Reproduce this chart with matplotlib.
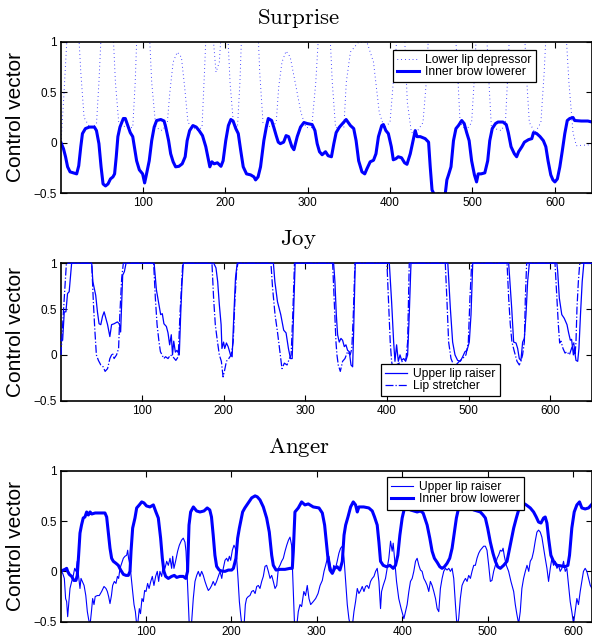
import matplotlib
matplotlib.use("Agg")
import matplotlib.pyplot as plt

plt.rcParams['font.family'] = ['Liberation Sans', 'DejaVu Sans']
plt.rcParams['mathtext.fontset'] = 'cm'

# ---- Surprise ----
surp_lip = [(1, 0.0), (4, 0.4), (8, 1.0), (11, 1.3), (21, 1.3), (25, 0.7), (29, 0.25), (36, 0.15),
            (44, 0.18), (47, 0.6), (51, 1.3), (63, 1.3), (67, 0.6), (71, 0.2), (80, 0.15), (88, 0.15),
            (91, 0.6), (94, 1.3), (107, 1.3), (111, 0.6), (116, 0.15), (124, 0.12), (130, 0.2), (133, 0.5),
            (137, 0.8), (142, 0.9), (147, 0.85), (151, 0.55), (155, 0.2), (165, 0.12), (172, 0.15),
            (175, 0.7), (178, 1.3), (185, 1.1), (189, 0.7), (193, 0.8), (197, 1.3), (202, 1.3), (206, 0.6),
            (210, 0.2), (215, 0.15), (218, 0.6), (221, 1.3), (239, 1.3), (242, 0.7), (246, 0.2), (256, 0.15),
            (262, 0.2), (265, 0.55), (269, 0.8), (274, 0.91), (279, 0.85), (285, 0.6), (292, 0.3),
            (298, 0.15), (305, 0.15), (310, 0.6), (315, 1.3), (326, 1.3), (330, 0.6), (334, 0.15),
            (344, 0.15), (347, 0.6), (352, 0.9), (362, 1.0), (372, 1.0), (380, 0.8), (387, 0.3),
            (393, 0.15), (400, 0.2), (405, 0.7), (410, 1.2), (418, 1.0), (421, 0.4), (426, 0.1),
            (432, 0.1), (440, 0.2), (444, 0.6), (448, 1.3), (478, 1.3), (482, 0.7), (485, 0.2),
            (492, 0.12), (499, 0.2), (502, 0.6), (506, 1.3), (516, 1.3), (520, 0.6), (523, 0.15),
            (535, 0.12), (540, 0.2), (543, 0.7), (546, 1.3), (562, 1.3), (566, 0.6), (569, 0.2),
            (576, 0.1), (583, 0.2), (587, 0.7), (590, 1.2), (600, 1.3), (612, 1.3), (617, 0.6),
            (622, 0.1), (626, -0.03), (645, -0.02)]

surp_brow = [(1, 0.0), (4, -0.06), (6.5, -0.14), (9, -0.24), (12, -0.29), (16, -0.30), (20, -0.31),
             (22.5, -0.23), (25, -0.04), (27, 0.09), (30.6, 0.14), (35.5, 0.155), (41.5, 0.155), (44, 0.12),
             (47, -0.01), (49.6, -0.24), (52, -0.41), (55, -0.43), (58, -0.41), (61, -0.36), (64, -0.34),
             (66, -0.31), (68, -0.14), (70, 0.06), (72.5, 0.155), (76.6, 0.24), (79, 0.24), (82, 0.17),
             (85, 0.10), (88, 0.06), (90, -0.04), (92.7, -0.18), (96, -0.27), (100, -0.31), (102.4, -0.40),
             (104, -0.34), (108, -0.18), (111, 0.02), (114, 0.155), (117, 0.22), (122, 0.23), (126, 0.215),
             (128, 0.155), (131.5, 0.02), (134, -0.11), (137, -0.19), (140, -0.24), (144, -0.235),
             (148, -0.21), (151.6, -0.14), (154, 0.02), (157, 0.12), (161, 0.17), (165, 0.155),
             (168.5, 0.12), (172.6, 0.07), (176.6, -0.04), (180, -0.18), (181.5, -0.24), (184, -0.19),
             (186.7, -0.21), (190.7, -0.20), (195, -0.235), (197.6, -0.18), (200.8, 0.02), (204, 0.17),
             (207, 0.23), (209.7, 0.215), (213, 0.14), (216, 0.09), (219, -0.08), (222, -0.24),
             (226, -0.31), (231, -0.32), (235, -0.34), (237, -0.37), (240, -0.34), (243, -0.24),
             (247, 0.02), (250, 0.155), (252.4, 0.24), (256.5, 0.22), (259, 0.155), (262, 0.07),
             (264.5, 0.005), (267, -0.01), (271, 0.005), (274, 0.07), (277, 0.06), (281, -0.04),
             (283.5, -0.07), (287.5, 0.06), (291.5, 0.155), (295.6, 0.20), (299.6, 0.19), (305.6, 0.18),
             (309, 0.12), (311.7, -0.01), (314.5, -0.09), (317.7, -0.12), (321.8, -0.09), (325, -0.13),
             (329, -0.14), (331.9, -0.01), (334.7, 0.10), (338.7, 0.155), (344, 0.205), (346.8, 0.23),
             (352, 0.17), (356, 0.14), (358.9, 0.02), (362, -0.18), (366, -0.29), (369.4, -0.31),
             (372, -0.26), (376, -0.19), (380, -0.175), (383, -0.11), (386, 0.06), (390, 0.17),
             (392, 0.18), (395, 0.12), (398, 0.09), (401.6, -0.04), (404, -0.17), (407, -0.16),
             (410, -0.14), (414, -0.15), (417.7, -0.20), (420.6, -0.215), (424.6, -0.11), (428.6, 0.04),
             (430.6, 0.12), (432.7, 0.06), (436.7, 0.06), (442.7, 0.04), (446.8, 0.005), (448.8, -0.24),
             (451, -0.47), (454, -0.52), (458.9, -0.51), (463, -0.52), (467, -0.51), (469, -0.37),
             (471, -0.32), (474, -0.24), (477, 0.02), (480, 0.14), (483, 0.17), (487, 0.22), (490, 0.19),
             (493, 0.10), (496, 0.02), (499, -0.18), (502.4, -0.32), (505, -0.39), (507, -0.31),
             (510.5, -0.31), (515, -0.30), (518.5, -0.18), (521, 0.02), (524, 0.14), (528, 0.19),
             (531, 0.205), (537, 0.205), (541, 0.18), (543.5, 0.10), (546.8, -0.04), (550.8, -0.11),
             (553.6, -0.14), (556, -0.09), (560, -0.04), (563, 0.005), (568, 0.03), (572, 0.04),
             (574, 0.10), (578, 0.09), (582, 0.06), (586, 0.02), (589, -0.04), (591.7, -0.18),
             (595, -0.32), (597.6, -0.37), (600, -0.39), (603, -0.36), (606, -0.24), (609, -0.08),
             (612, 0.09), (615, 0.22), (618, 0.24), (622, 0.25), (624, 0.22), (632, 0.215), (640, 0.215),
             (645, 0.205)]

# ---- Joy ----
joy_raiser = [(1, 0.16), (3, 0.16), (5, 0.47), (7, 0.47), (9, 0.67), (11, 0.69), (14, 1), (38.6, 1),
              (40, 0.8), (43.5, 0.65), (45.6, 0.47), (47.6, 0.34), (49.7, 0.33), (51.8, 0.42), (53.8, 0.47),
              (55.9, 0.4), (58, 0.33), (60.8, 0.2), (62.9, 0.33), (66, 0.34), (70, 0.36), (72.4, 0.34),
              (74, 0.25), (75.3, 0.58), (76.5, 0.87), (78.6, 0.91), (80.6, 1), (115, 1), (117.8, 0.71),
              (121, 0.54), (123, 0.44), (125, 0.45), (127, 0.34), (130, 0.31), (132, 0.24), (134, 0.11),
              (136, 0.22), (137.5, 0), (139, 0.15), (141, 0.03), (143, 0.05), (145.8, 0), (147.5, 0.44),
              (149, 0.76), (150.7, 1), (188, 1), (190.7, 0.95), (192.8, 0.8), (194.8, 0.55), (197, 0.33),
              (198, 0.07), (200, 0.14), (201.4, 0.07), (203.5, 0.13), (205.6, 0.09), (208.5, 0),
              (210.5, -0.02), (212.6, 0.44), (214.6, 0.84), (216.7, 1), (261, 1), (262.8, 0.8), (266, 0.58),
              (270, 0.44), (273.6, 0.27), (276.5, 0.24), (279.4, 0.07), (281.9, -0.04), (284, -0.04),
              (285.6, 0.44), (287.6, 1), (334.7, 1), (336.3, 0.8), (338, 0.44), (339.6, 0.22), (341.6, 0.14),
              (343.7, 0.18), (345.7, 0.16), (347.8, 0.09), (349.8, 0.11), (351.8, 0.05), (353.9, 0.035),
              (356, -0.11), (358, -0.13), (359.2, 0.25), (361.2, 1), (402.9, 1), (405.7, 0.58),
              (408.2, 0.14), (409.8, -0.07), (411.8, 0.11), (413.9, -0.07), (416, 0), (418, -0.06),
              (420.4, -0.04), (422.9, -0.07), (425.3, 0), (427.3, 0.44), (429.4, 1), (474.5, 1),
              (477.6, 0.51), (480.4, 0.14), (483.3, 0), (486.5, -0.06), (489.8, -0.07), (492.7, -0.02),
              (495.5, 0.035), (498, 0.05), (500.8, 0.14), (502.9, 0.44), (505, 1), (549, 1), (552.7, 0.51),
              (555.1, 0.14), (558, 0.13), (560, 0.07), (562, -0.04), (564, -0.06), (566.1, 0.14),
              (568.2, 0.18), (570.2, 0.44), (572.2, 0.8), (574.3, 1), (608, 1), (609, 0.91), (611, 0.62),
              (614, 0.44), (617, 0.4), (620.4, 0.33), (622.4, 0.24), (624.5, 0.16), (626, 0.17),
              (628.2, 0), (629.4, 0.07), (631.4, -0.06), (633.5, -0.07), (635, 0.07), (636.9, 0.44),
              (639, 0.8), (641, 1), (651, 1)]

joy_stretcher = [(1, 0), (3, 0.33), (5, 0.62), (7.6, 1), (38.6, 1), (40.6, 0.58), (42.3, 0.29), (44.3, 0),
                 (46.8, -0.06), (49.7, -0.11), (52.6, -0.13), (55, -0.18), (58, -0.15), (60.8, -0.04),
                 (64, 0.02), (66, -0.04), (69, 0), (71.5, 0.07), (73, 0.44), (75.3, 0.84), (77.3, 1),
                 (114.4, 1), (116.5, 0.62), (118.6, 0.33), (121, 0.14), (122.7, 0.035), (124.7, 0),
                 (126.8, -0.04), (129, -0.02), (132, -0.04), (135, 0), (138, -0.02), (141.6, -0.06),
                 (144.5, -0.02), (146.6, 0.44), (148.7, 0.8), (150, 1), (185.8, 1), (187.8, 0.62),
                 (189.9, 0.33), (192, 0.18), (194.8, 0), (197.3, -0.07), (199.4, -0.24), (201, -0.18),
                 (203.5, -0.07), (206.4, -0.04), (209.3, 0), (211.8, 0.14), (213.8, 0.58), (215.9, 0.91),
                 (217.5, 1), (258, 1), (260, 0.73), (263, 0.44), (266, 0.25), (269.5, 0), (271.5, -0.15),
                 (274.4, -0.09), (277.7, -0.11), (280.6, -0.04), (282.7, 0), (284.7, 0.44), (286.8, 1),
                 (333.5, 1), (335.5, 0.58), (337.6, 0.14), (338.8, 0), (340.4, -0.11), (342.9, -0.18),
                 (345.7, -0.07), (348.6, -0.04), (351.8, 0.035), (355, 0), (357, 0.07), (358.8, 0.44),
                 (360.8, 1), (400, 1), (402, 0.58), (404, 0.14), (405.7, -0.07), (407.8, -0.18),
                 (411, -0.11), (415, -0.09), (419, -0.07), (423.3, -0.04), (425.3, 0.14), (427.3, 1),
                 (471.4, 1), (473.5, 0.58), (475.5, 0.14), (478.4, -0.04), (481.6, -0.11), (484.5, -0.11),
                 (488.6, -0.07), (492.7, -0.04), (496.7, 0), (499.6, 0.14), (501.6, 0.62), (503.7, 1),
                 (547, 1), (549, 0.62), (551, 0.33), (553, 0.14), (556, 0.035), (559.2, -0.07),
                 (562, -0.11), (564, -0.07), (566, 0), (568.2, 0.14), (569.4, 0.62), (571, 1), (605.7, 1),
                 (608, 0.62), (609.8, 0.33), (611.4, 0.13), (613, 0.15), (615.5, 0.07), (618, 0.02),
                 (620.4, 0.035), (623.3, 0), (626, 0.07), (628.6, 0.14), (630.2, 0), (631.4, 0.14),
                 (632.6, 0.51), (634.3, 0.8), (636, 1), (651, 1)]

# ---- Anger ----
anger_raiser = [(1, 0), (3, -0.02), (4.9, -0.07), (6.4, -0.27), (7.6, -0.3), (8.8, -0.45), (10, -0.33),
                (11.5, -0.17), (13.5, -0.1), (15.4, -0.04), (17, 0.03), (18.5, 0), (20, 0.1), (21.6, -0.05),
                (23.2, -0.17), (24.4, -0.07), (26, -0.1), (28, -0.14), (30, -0.24), (31.8, -0.4),
                (33.4, -0.48), (35, -0.53), (36.6, -0.4), (38, -0.27), (39.6, -0.33), (41, -0.25),
                (43.5, -0.24), (45.8, -0.24), (48.5, -0.2), (51.3, -0.15), (53.6, -0.17), (55.2, -0.2),
                (56.7, -0.25), (58.3, -0.32), (60, -0.24), (61.4, -0.14), (63.4, -0.1), (65.3, -0.12),
                (67, -0.05), (68.4, -0.07), (70, 0.03), (72, 0.08), (73.9, 0.13), (75.8, 0.15),
                (77.8, 0.16), (79, 0.21), (80, 0.13), (81.7, 0.06), (83.2, -0.07), (84.8, -0.2),
                (86.4, -0.33), (88, -0.4), (89.5, -0.53), (91, -0.5), (92.6, -0.37), (94, -0.42),
                (95.7, -0.27), (97.3, -0.3), (98.8, -0.19), (100.4, -0.2), (102.3, -0.12), (104, -0.17),
                (106, -0.1), (107.8, -0.05), (109.7, -0.14), (111.7, -0.05), (113.6, 0), (115.2, -0.1),
                (116.7, 0), (118.7, -0.05), (120.7, 0.06), (122.6, 0.03), (124.6, 0.1), (126.5, 0.06),
                (128.5, 0.13), (130.4, 0.03), (131.6, 0.15), (133.1, 0.03), (135, 0.1), (137.4, 0.2),
                (139.4, 0.26), (142, 0.31), (144, 0.33), (146, 0.29), (147.2, 0.2), (148.7, -0.07),
                (150, -0.33), (151, -0.53), (152.5, -0.6), (153.8, -0.5), (155.7, -0.27), (157.7, -0.1),
                (159.7, -0.04), (161.6, 0), (163.5, -0.05), (165.5, 0), (167.4, -0.04), (169.4, -0.1),
                (171.4, -0.15), (173.3, -0.19), (175.3, -0.17), (177.2, -0.14), (179, -0.1), (181, -0.14),
                (183, -0.1), (185, -0.05), (187, 0), (189, -0.07), (190.8, 0.03), (192.8, 0.11),
                (194.7, 0.13), (196.3, 0.1), (197.9, 0.15), (199.4, 0.11), (201.4, 0.21), (203.3, 0.26),
                (204.9, 0.23), (206.4, 0.13), (208, -0.07), (209.6, -0.3), (211.1, -0.43), (212.7, -0.55),
                (215, -0.55), (216.6, -0.33), (218, -0.27), (220, -0.25), (222, -0.24), (224, -0.2),
                (226, -0.19), (228, -0.22), (229.9, -0.15), (231.8, -0.14), (233.7, -0.17), (235.7, -0.1),
                (237.6, -0.05), (239.6, 0.05), (241.5, 0.06), (243.5, 0), (245.5, -0.07), (247.4, -0.04),
                (249.3, -0.1), (251.3, -0.17), (253.3, -0.14), (255.2, 0.03), (257.1, 0.06), (259, 0.1),
                (261, 0.13), (263, 0.2), (265, 0.26), (267, 0.31), (268.8, 0.34), (270.7, 0.26),
                (272.7, -0.2), (274.2, -0.55), (276.6, -0.55), (278.5, -0.4), (280.5, -0.33),
                (282.4, -0.35), (285, -0.2), (287, -0.24), (289, -0.14), (291, -0.27), (293, -0.33),
                (296, -0.3), (298.8, -0.27), (301.6, -0.22), (304, -0.14), (306.6, -0.09), (308.6, 0),
                (310.5, 0.06), (312.5, 0.13), (314.4, 0.15), (316.3, 0.05), (318.3, -0.02), (320, 0.06),
                (322, 0.03), (324, 0.1), (326, 0.18), (328, 0.23), (330, 0.25), (332, 0.13), (333.9, -0.1),
                (335.8, -0.33), (337.7, -0.47), (339.7, -0.55), (341.6, -0.55), (343.6, -0.4),
                (345.5, -0.3), (347.5, -0.17), (349.4, -0.22), (351.4, -0.19), (353.3, -0.15),
                (355.3, -0.2), (357.2, -0.15), (359, -0.14), (361, -0.17), (363, -0.1), (365, -0.07),
                (367, -0.05), (368.9, 0), (370.8, 0.03), (372.8, -0.1), (374.7, -0.37), (375.9, -0.2),
                (377.8, -0.14), (380.5, -0.07), (382.5, 0.03), (384.4, 0.13), (386.4, 0.3), (388.3, 0.2),
                (389.5, 0.28), (391.4, 0.1), (393.4, -0.1), (396, -0.27), (398.8, -0.37), (402, -0.47),
                (403.9, -0.4), (405.8, -0.33), (407.8, -0.2), (409.7, -0.1), (411.7, -0.07), (413.6, 0),
                (415.6, 0.1), (417.5, 0.13), (419.5, 0.06), (421.4, 0.013), (423.3, 0), (425.3, -0.07),
                (427.2, -0.1), (429.2, -0.14), (431.1, -0.2), (433, -0.1), (435, -0.14), (437, -0.2),
                (439, -0.27), (440.9, -0.37), (442.8, -0.4), (444.7, -0.17), (446.7, -0.07), (448.6, 0),
                (450.6, 0.03), (452.5, 0.013), (454.5, 0.03), (456.4, 0), (458.4, 0.03), (460.3, -0.07),
                (462.3, -0.33), (464.2, -0.55), (466.1, -0.47), (468, -0.27), (470, -0.14), (472, -0.1),
                (474, -0.07), (475.9, -0.1), (477.8, -0.04), (479.8, -0.07), (481.7, 0), (483.7, 0.06),
                (485.6, 0.06), (487.5, 0.13), (489.5, 0.18), (491.4, 0.21), (493.4, 0.23), (495.3, 0.25),
                (497.3, 0.25), (499.2, 0.21), (501.2, 0.06), (503.1, -0.1), (505, -0.09), (507, 0),
                (509, 0.06), (511, 0.13), (512.8, 0.16), (514.8, 0.21), (516.7, 0.2), (518, 0.23),
                (519.5, 0.15), (521.8, 0.06), (524.5, 0), (527.2, -0.1), (530.4, -0.2), (532.3, -0.33),
                (534.2, -0.43), (536.2, -0.52), (538.1, -0.4), (540, -0.17), (542, -0.07), (544, 0),
                (546, 0.06), (548, 0), (549.8, 0.1), (551.8, 0.13), (553.7, 0.2), (555.6, 0.3),
                (557.6, 0.39), (559.5, 0.41), (561.5, 0.39), (563.4, 0.34), (565.4, 0.23), (567.3, 0.13),
                (569.3, 0.03), (571.2, -0.1), (573.2, 0.03), (575.1, 0.13), (577, 0.06), (579, 0.1),
                (581, 0.03), (582.9, 0.06), (584.8, 0), (586.8, 0.03), (588.7, 0.1), (590.7, 0),
                (592.6, 0.03), (594.6, -0.14), (596.5, -0.3), (598.4, -0.4), (600.4, -0.52), (602.3, -0.4),
                (604.3, -0.27), (606.2, -0.33), (608.2, -0.2), (610.1, -0.1), (612, 0), (614, 0.03),
                (616, 0), (618, -0.07), (620, -0.14), (622, -0.17)]

anger_brow = [(1, 0), (3.7, 0.013), (5.7, 0.02), (7.6, 0.03), (8.8, 0), (10.7, -0.03), (13.5, -0.05),
              (16, -0.09), (18.5, -0.09), (20, -0.04), (21.6, 0.16), (23.2, 0.38), (25, 0.46), (27, 0.53),
              (29, 0.54), (31, 0.59), (33, 0.56), (35, 0.59), (37, 0.57), (41, 0.58), (46.6, 0.58),
              (52.4, 0.58), (54.4, 0.54), (56.3, 0.39), (58.3, 0.23), (60.2, 0.13), (62.2, 0.1),
              (65.3, 0.08), (68, 0.06), (70.8, 0.013), (74, -0.03), (77, -0.04), (79.7, -0.04), (81.7, 0),
              (82.9, 0.2), (84.8, 0.43), (87.5, 0.53), (89.5, 0.63), (92.6, 0.66), (95.4, 0.69),
              (98, 0.68), (101, 0.65), (105, 0.64), (109, 0.66), (112, 0.59), (114.8, 0.53),
              (117.5, 0.33), (119.5, 0.13), (121.4, 0), (123.4, -0.05), (126.5, -0.07), (130.4, -0.05),
              (133.5, -0.04), (136.3, -0.06), (140, -0.05), (144, -0.05), (147, -0.07), (149, 0),
              (150.7, 0.46), (152.6, 0.59), (155.8, 0.64), (159.6, 0.6), (163.5, 0.59), (168.2, 0.6),
              (172, 0.63), (175, 0.61), (177, 0.54), (179, 0.36), (181, 0.16), (183, 0.05), (186, 0.013),
              (189, 0.003), (192.8, 0), (196.7, 0.013), (200.6, 0.013), (202.6, 0.03), (205.6, 0.13),
              (207.6, 0.33), (209.6, 0.43), (211, 0.49), (213.4, 0.59), (216, 0.63), (220, 0.68),
              (224, 0.73), (228, 0.75), (230.6, 0.74), (233.7, 0.71), (237.6, 0.64), (241.5, 0.53),
              (244.6, 0.39), (247.4, 0.16), (249.3, 0.06), (252.5, 0.013), (257, 0.02), (263, 0.02),
              (268.8, 0.03), (271.5, 0.03), (272.7, 0.2), (274.6, 0.59), (278.5, 0.63), (282.4, 0.69),
              (286.3, 0.66), (290.2, 0.67), (296, 0.64), (302.7, 0.63), (306.6, 0.58), (309.3, 0.46),
              (311.7, 0.26), (313.2, 0.13), (315.6, 0.013), (318.3, -0.02), (321, 0.03), (324, 0.046),
              (327.2, 0.013), (330, 0.1), (332, 0.36), (333.9, 0.46), (336.6, 0.54), (339.7, 0.64),
              (342.8, 0.69), (345.5, 0.66), (347.5, 0.59), (349.4, 0.64), (355, 0.64), (361, 0.63),
              (365, 0.6), (367.7, 0.54), (370.8, 0.46), (372.8, 0.29), (374.7, 0.1), (377.8, 0.06),
              (381.7, 0.046), (385.6, 0.06), (389.5, 0.03), (392.2, 0.06), (394.9, 0.16), (397.3, 0.36),
              (400, 0.53), (402.7, 0.63), (405.8, 0.64), (409.7, 0.61), (413.6, 0.6), (417.5, 0.59),
              (421.4, 0.6), (424.5, 0.58), (427.2, 0.51), (429.2, 0.46), (432.3, 0.33), (435, 0.2),
              (437.7, 0.13), (440.9, 0.09), (444, 0.046), (446.7, 0.03), (449.4, 0.046), (452.5, 0.08),
              (455.6, 0.13), (458.4, 0.23), (461, 0.39), (463.4, 0.53), (466, 0.63), (468.9, 0.68),
              (472, 0.66), (475.9, 0.64), (479.8, 0.63), (483.7, 0.61), (487.5, 0.6), (491.4, 0.59),
              (494.6, 0.56), (497.3, 0.53), (500, 0.43), (503.1, 0.29), (506.2, 0.18), (509, 0.1),
              (511.7, 0.046), (514.8, 0.03), (518.7, 0.06), (522.6, 0.1), (524.5, 0.18), (527.2, 0.29),
              (530.4, 0.43), (533.5, 0.53), (536.2, 0.61), (538.1, 0.66), (541.2, 0.68), (545.1, 0.66),
              (549.8, 0.63), (553.7, 0.59), (556.8, 0.54), (559.5, 0.49), (562.3, 0.48), (565.4, 0.53),
              (567.3, 0.54), (569.3, 0.48), (571.2, 0.33), (573.9, 0.16), (577, 0.1), (580.9, 0.06),
              (584.8, 0.056), (590.7, 0.046), (593.8, 0.06), (595.7, 0.16), (598.4, 0.43), (601.2, 0.59),
              (604.3, 0.66), (607.4, 0.69), (610.1, 0.63), (614, 0.62), (618, 0.63), (622.2, 0.67)]

yticks = [-0.5, 0, 0.5, 1]
ytick_labels = ['\u22120.5', '0', '0.5', '1']
xticks = [100, 200, 300, 400, 500, 600]

BLUE = '#0000ff'
W, H = 592, 643


def xy(pairs):
    return [p[0] for p in pairs], [p[1] for p in pairs]


def setup(ax, title, xmax):
    ax.set_xlim(1, xmax)
    ax.set_ylim(-0.5, 1)
    ax.set_xticks(xticks)
    ax.set_yticks(yticks, ytick_labels)
    ax.tick_params(direction='in', top=True, right=True, length=4, width=0.8,
                   labelsize=8.5, pad=3)
    for s in ax.spines.values():
        s.set_linewidth(1.2)
    ax.set_ylabel('Control vector', fontsize=15)
    # right edge of the rotated label sits ~25 px from the figure edge
    ax.yaxis.set_label_coords(-0.068, 0.5)
    ax.set_title(r'$\mathrm{%s}$' % title, fontsize=16.5, x=0.448, pad=13)


def legend(ax, x, y):
    leg = ax.legend(loc='upper left', bbox_to_anchor=(x, y), borderaxespad=0, fontsize=8.7,
                    frameon=True, fancybox=False, handlelength=1.8, handletextpad=0.5,
                    labelspacing=0.0, borderpad=0.35)
    leg.get_frame().set_edgecolor('black')
    leg.get_frame().set_linewidth(0.9)
    leg.get_frame().set_alpha(1)


fig = plt.figure(figsize=(W / 100, H / 100), dpi=100)

# panel rects from pixel positions (left, top, bottom)
ax1 = fig.add_axes([61 / W, 1 - 193 / H, 531 / W, 151 / H])
ax2 = fig.add_axes([61 / W, 1 - 400.7 / H, 531 / W, 137.4 / H])
ax3 = fig.add_axes([61 / W, 1 - 621.7 / H, 531 / W, 151 / H])

x, y = xy(surp_lip)
ax1.plot(x, y, color=BLUE, lw=0.7, dashes=(0.7, 3.2), label='Lower lip depressor')
x, y = xy(surp_brow)
ax1.plot(x, y, color=BLUE, lw=2.2, label='Inner brow lowerer')
setup(ax1, 'Surprise', 645)
legend(ax1, 0.625, 0.947)

x, y = xy(joy_raiser)
ax2.plot(x, y, color=BLUE, lw=0.9, label='Upper lip raiser', clip_on=False, zorder=3)
x, y = xy(joy_stretcher)
ax2.plot(x, y, color=BLUE, lw=0.9, ls='-.', label='Lip stretcher', clip_on=False, zorder=3)
setup(ax2, 'Joy', 651)
legend(ax2, 0.603, 0.267)

x, y = xy(anger_raiser)
ax3.plot(x, y, color=BLUE, lw=0.8, label='Upper lip raiser')
x, y = xy(anger_brow)
ax3.plot(x, y, color=BLUE, lw=2.2, label='Inner brow lowerer')
setup(ax3, 'Anger', 622)
legend(ax3, 0.614, 0.958)

fig.savefig('out.png', dpi=100)
